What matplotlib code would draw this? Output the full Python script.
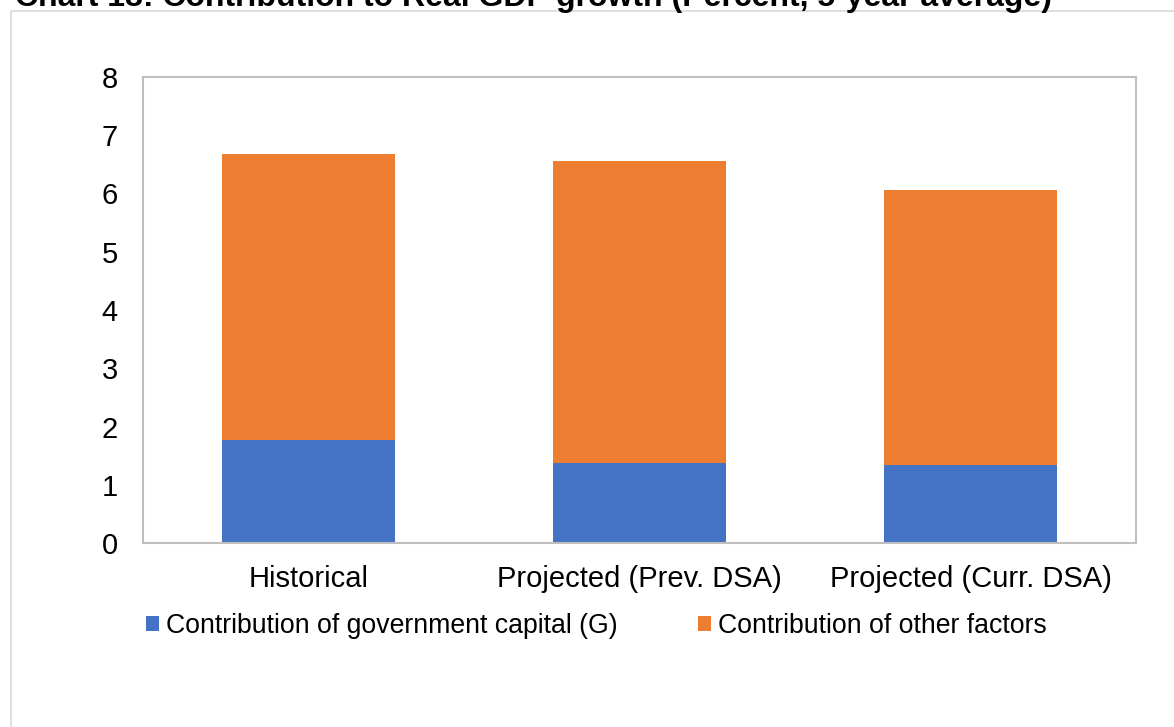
import matplotlib
matplotlib.use("Agg")
import matplotlib.pyplot as plt
from matplotlib.patches import Rectangle

plt.rcParams["font.family"] = ["Liberation Sans", "DejaVu Sans"]

categories = ["Historical", "Projected (Prev. DSA)", "Projected (Curr. DSA)"]
gov_capital = [1.76, 1.37, 1.34]
other_factors = [4.92, 5.19, 4.72]
yticks = [0, 1, 2, 3, 4, 5, 6, 7, 8]

blue = "#4472C4"
orange = "#ED7D31"

W, H = 1174, 727
fig = plt.figure(figsize=(W / 100, H / 100), dpi=100)

# outer chart frame
fig.patches.append(Rectangle((11 / W, -0.1), 1.2, 1.1 - 11 / H, transform=fig.transFigure,
                             fill=False, edgecolor="#D9D9D9", lw=1.2, zorder=0))

fig.text(15 / W, 1 - 6 / H, "Chart 18: Contribution to Real GDP growth (Percent, 5-year average)",
         fontsize=23, fontweight="bold", va="baseline", ha="left")

ax = fig.add_axes([143 / W, (H - 543) / H, (1136 - 143) / W, (543 - 77) / H])
x = range(len(categories))
ax.bar(x, gov_capital, width=0.525, color=blue, label="Contribution of government capital (G)")
ax.bar(x, other_factors, width=0.525, bottom=gov_capital, color=orange,
       label="Contribution of other factors")

ax.set_xlim(-0.5, 2.5)
ax.set_ylim(0, 8)
ax.set_yticks(yticks)
ax.set_xticks(list(x))
ax.set_xticklabels(categories)
ax.tick_params(length=0, labelsize=21, colors="black")
ax.tick_params(axis="y", pad=18)
ax.tick_params(axis="x", pad=16)
for s in ax.spines.values():
    s.set_color("#BFBFBF")
    s.set_linewidth(1.5)

handles, labels = ax.get_legend_handles_labels()
fig.legend(handles, labels, loc="center left", bbox_to_anchor=(146 / W, 1 - 626 / H),
           ncol=2, frameon=False, fontsize=19.2, handlelength=0.5, handleheight=0.5,
           handletextpad=0.25, columnspacing=3.0, borderpad=0, borderaxespad=0)

fig.savefig("out.png", dpi=100)
